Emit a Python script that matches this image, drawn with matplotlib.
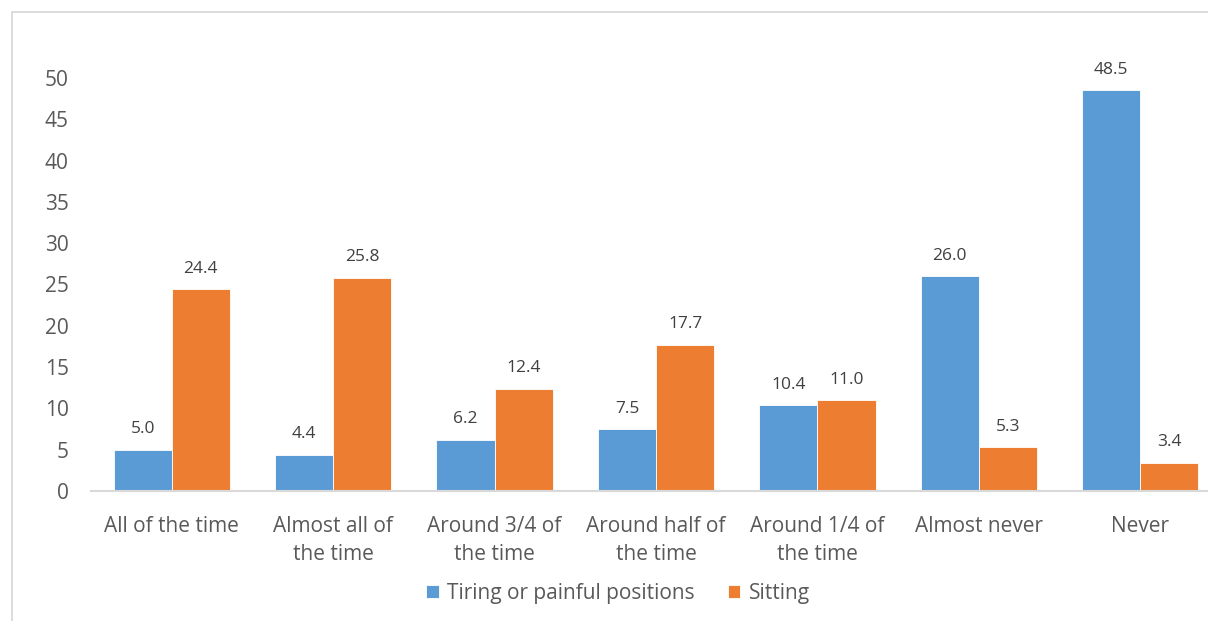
import matplotlib
matplotlib.use("Agg")
import matplotlib.pyplot as plt
import numpy as np
from matplotlib.patches import Rectangle

categories = ["All of the time", "Almost all of\nthe time", "Around 3/4 of\nthe time",
              "Around half of\nthe time", "Around 1/4 of\nthe time", "Almost never", "Never"]
tiring = [5.0, 4.4, 6.2, 7.5, 10.4, 26.0, 48.5]
sitting = [24.4, 25.8, 12.4, 17.7, 11.0, 5.3, 3.4]
series_names = ["Tiring or painful positions", "Sitting"]
yticks = [0, 5, 10, 15, 20, 25, 30, 35, 40, 45, 50]

plt.rcParams['font.family'] = ['Open Sans', 'DejaVu Sans']
TXT = "#595959"
BLUE = "#5B9BD5"
ORANGE = "#ED7D31"

W, H = 1208, 621
fig = plt.figure(figsize=(W/100, H/100), dpi=100)
ax = fig.add_axes([91/W, 1-491/H, 1130/W, 413/H])

x = np.arange(len(categories))
bw = 0.36
b1 = ax.bar(x - bw/2, tiring, bw, color=BLUE, edgecolor="white", linewidth=0.6, label=series_names[0])
b2 = ax.bar(x + bw/2, sitting, bw, color=ORANGE, edgecolor="white", linewidth=0.6, label=series_names[1])
for bars in (b1, b2):
    ax.bar_label(bars, labels=[f"{v:.1f}" for v in bars.datavalues], padding=9,
                 fontsize=12.5, color="#404040")

ax.set_xlim(-0.5, len(categories) - 0.5)
ax.set_ylim(0, 50)
ax.set_yticks(yticks)
ax.set_xticks(x)
ax.set_xticklabels(categories, fontsize=15, color=TXT, linespacing=1.45)
ax.tick_params(axis='y', labelsize=15, labelcolor=TXT, length=0, pad=16)
ax.tick_params(axis='x', length=0, pad=18)
for s in ("top", "right", "left"):
    ax.spines[s].set_visible(False)
ax.spines["bottom"].set_color("#D9D9D9")
ax.spines["bottom"].set_linewidth(1.5)

leg = fig.legend(handles=[b1, b2], labels=series_names, loc="center",
                 bbox_to_anchor=(618/W, 1-593/H), ncol=2, frameon=False,
                 fontsize=15, handlelength=0.6, handleheight=0.6,
                 handletextpad=0.4, columnspacing=1.6)
for t in leg.get_texts():
    t.set_color(TXT)

fig.patches.append(Rectangle((12/W, -0.1), 1.2, 1 - 12/H + 0.1, transform=fig.transFigure,
                             fill=False, edgecolor="#D9D9D9", linewidth=1.3))

fig.savefig("out.png", dpi=100)
